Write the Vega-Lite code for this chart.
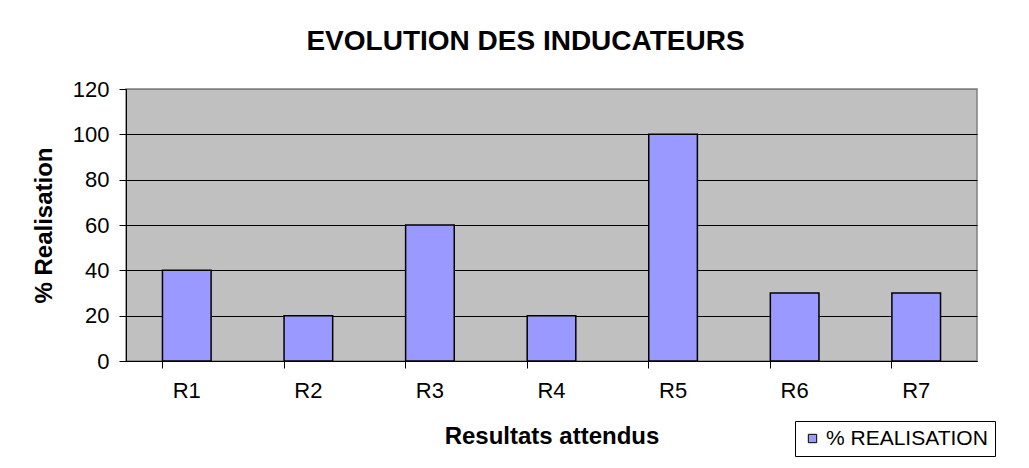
{
  "$schema": "https://vega.github.io/schema/vega-lite/v6.json",
  "autosize": {"type": "none"},
  "padding": {"left": 126, "top": 89, "right": 52, "bottom": 107},
  "width": 851,
  "height": 272,
  "background": "white",
  "title": {
    "text": "EVOLUTION DES INDUCATEURS",
    "font": "Liberation Sans",
    "fontSize": 28,
    "fontWeight": "bold",
    "color": "black",
    "anchor": "middle",
    "dx": -26,
    "offset": 22
  },
  "data": {
    "values": [
      {"resultat": "R1", "realisation": 40, "serie": "% REALISATION"},
      {"resultat": "R2", "realisation": 20, "serie": "% REALISATION"},
      {"resultat": "R3", "realisation": 60, "serie": "% REALISATION"},
      {"resultat": "R4", "realisation": 20, "serie": "% REALISATION"},
      {"resultat": "R5", "realisation": 100, "serie": "% REALISATION"},
      {"resultat": "R6", "realisation": 30, "serie": "% REALISATION"},
      {"resultat": "R7", "realisation": 30, "serie": "% REALISATION"}
    ]
  },
  "mark": {"type": "bar", "stroke": "black", "strokeWidth": 1.5},
  "encoding": {
    "x": {
      "field": "resultat",
      "type": "nominal",
      "sort": null,
      "scale": {"paddingInner": 0.6, "paddingOuter": 0.3},
      "axis": {
        "title": "Resultats attendus",
        "labelAngle": 0,
        "bandPosition": 0,
        "tickSize": 7,
        "labelPadding": 12,
        "titlePadding": 23,
        "grid": false
      }
    },
    "y": {
      "field": "realisation",
      "type": "quantitative",
      "scale": {"domain": [0, 120], "nice": false},
      "axis": {
        "title": "% Realisation",
        "values": [0, 20, 40, 60, 80, 100, 120],
        "tickSize": 7,
        "labelPadding": 10,
        "titlePadding": 16,
        "grid": true,
        "gridColor": {"condition": {"test": "datum.value == 120", "value": "#808080"}, "value": "black"}
      }
    },
    "color": {
      "field": "serie",
      "type": "nominal",
      "scale": {"range": ["#9999FF"]},
      "legend": {
        "title": null,
        "orient": "none",
        "legendX": 669,
        "legendY": 332,
        "strokeColor": "black",
        "fillColor": "white",
        "padding": 7,
        "symbolType": "square",
        "symbolSize": 70,
        "symbolStrokeColor": "black",
        "symbolStrokeWidth": 1,
        "symbolOpacity": 1,
        "labelFont": "Liberation Sans",
        "labelFontSize": 21,
        "labelColor": "black",
        "labelOffset": 3,
        "labelLimit": 0
      }
    }
  },
  "config": {
    "view": {"fill": "#C0C0C0", "stroke": "#808080", "strokeWidth": 1.5},
    "axis": {
      "domainColor": "black",
      "domainWidth": 1,
      "tickColor": "black",
      "tickWidth": 1,
      "gridWidth": 1,
      "labelFont": "Liberation Sans",
      "labelFontSize": 22,
      "labelColor": "black",
      "titleFont": "Liberation Sans",
      "titleFontSize": 24,
      "titleFontWeight": "bold",
      "titleColor": "black"
    }
  }
}
